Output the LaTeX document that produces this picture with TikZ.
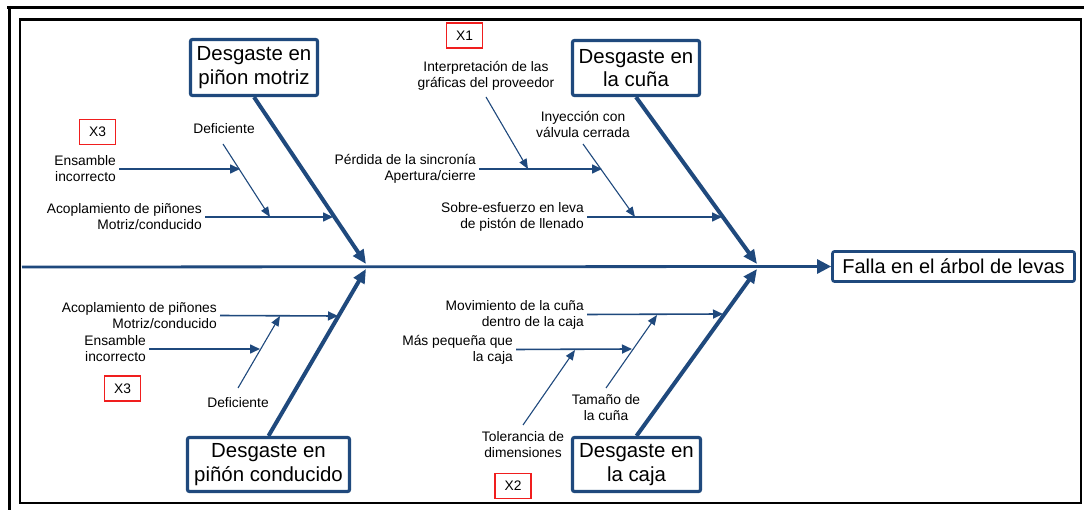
\documentclass[tikz,border=0pt]{standalone}
\usepackage{fontspec}
\setmainfont{Liberation Sans}
\usetikzlibrary{arrows.meta}
\definecolor{bl}{RGB}{31,73,125}
\definecolor{xred}{RGB}{240,30,30}
\tikzset{
  causebox/.style={draw=bl, line width=3.2pt, rounded corners=2pt, fill=white, align=center,
    font=\fontsize{20.4}{23.5}\selectfont, inner sep=0pt},
  effectbox/.style={draw=bl, line width=2.7pt, rounded corners=2pt, fill=white, align=center,
    font=\fontsize{20}{23}\selectfont, inner sep=0pt, minimum width=242pt, minimum height=30pt},
  lbl/.style={font=\fontsize{13.8}{16}\selectfont, inner sep=0pt},
  lblr/.style={lbl, align=right, anchor=east},
  lblc/.style={lbl, align=center},
  xbox/.style={draw=xred, line width=1.1pt, font=\fontsize{13.8}{16}\selectfont, inner sep=0pt,
    minimum width=36pt, minimum height=25pt},
  mainbone/.style={draw=bl, line width=4pt, -{Triangle[length=14pt,width=12pt]}},
  spine/.style={draw=bl, line width=2.8pt, -{Triangle[length=14pt,width=14pt]}},
  subbone/.style={draw=bl, line width=1.6pt, shorten <=3pt, -{Triangle[length=10pt,width=9pt]}},
  diagbone/.style={draw=bl, line width=1.1pt, -{Triangle[length=10pt,width=8pt]}},
  frameouter/.style={draw=black, line width=3.5pt},
  frameinner/.style={draw=black, line width=2.2pt}
}
\begin{document}
\begin{tikzpicture}[x=1pt,y=-1pt]
\useasboundingbox (0,0) rectangle (1084,510);
\fill[white] (0,0) rectangle (1084,510);
% frames
\draw[frameouter] (7,7.5) -- (1084,7.5);
\draw[frameouter] (9.3,6) -- (9.3,510);
\draw[frameinner] (20.3,19.5) rectangle (1081,503);

% junctions and spine
\coordinate (S0) at (22,267);
\coordinate (J1t) at (366,264);
\coordinate (J1b) at (366,269);
\coordinate (J2t) at (757,264);
\coordinate (J2b) at (757,269);

% effect
\node[effectbox] (eff) at (953.5,266.5) {Falla en el árbol de levas};

% cause boxes
\node[causebox, minimum width=127pt, minimum height=56pt] (cpm) at (254,67.5) {Desgaste en\\piñon motriz};
\node[causebox, minimum width=127pt, minimum height=55pt] (ccu) at (636,68) {Desgaste en\\la cuña};
\node[causebox, minimum width=162pt, minimum height=54pt] (cpc) at (268.5,464.5) {Desgaste en\\piñón conducido};
\node[causebox, minimum width=128pt, minimum height=54pt] (cca) at (636.5,464.5) {Desgaste en\\la caja};

\draw[spine] (S0) -- (eff.west);
\draw[mainbone] (cpm.south) -- (J1t);
\draw[mainbone] (ccu.south) -- (J2t);
\draw[mainbone] (cpc.north) -- (J1b);
\draw[mainbone] (cca.north) -- (J2b);

% ---------- top-left ----------
\node[xbox] (x3a) at (97.5,132) {X3};
\node[lblc] (def1) at (224,129) {Deficiente};
\node[lblr] (ens1) at (116,169) {Ensamble\\incorrecto};
\node[lblr] (aco1) at (202,217) {Acoplamiento de piñones\\Motriz/conducido};
\coordinate (d1s) at (223,144);
\coordinate (d1e) at (270,217);
\coordinate (e1) at (240,169);
\coordinate (a1) at (333,217);
\draw[diagbone] (d1s) -- (d1e);
\draw[subbone] (ens1.east) -- (e1);
\draw[subbone] (aco1.east) -- (a1);

% ---------- top-right ----------
\node[xbox] (x1) at (464.5,35.5) {X1};
\node[lblc] (int) at (486,75.5) {Interpretación de las\\gráficas del proveedor};
\node[lblc] (iny) at (583,124.5) {Inyección con\\válvula cerrada};
\node[lblr] (per) at (476,169) {Pérdida de la sincronía\\Apertura/cierre};
\node[lblr] (sob) at (584,217) {Sobre-esfuerzo en leva\\de pistón de llenado};
\coordinate (is) at (486,97);
\coordinate (ie) at (528,169);
\coordinate (ys) at (583,144);
\coordinate (ye) at (635,217);
\coordinate (p1) at (602,169);
\coordinate (s1) at (722,217);
\draw[diagbone] (is) -- (ie);
\draw[diagbone] (ys) -- (ye);
\draw[subbone] (per.east) -- (p1);
\draw[subbone] (sob.east) -- (s1);

% ---------- bottom-left ----------
\node[xbox] (x3b) at (122.5,388.5) {X3};
\node[lblr] (aco2) at (217,315.5) {Acoplamiento de piñones\\Motriz/conducido};
\node[lblr] (ens2) at (146,349) {Ensamble\\incorrecto};
\node[lblc] (def2) at (238,403) {Deficiente};
\coordinate (d2s) at (238,388);
\coordinate (d2e) at (280,316);
\coordinate (a2) at (338,316);
\coordinate (e2) at (260,349);
\draw[diagbone] (d2s) -- (d2e);
\draw[subbone] (aco2.east) -- (a2);
\draw[subbone] (ens2.east) -- (e2);

% ---------- bottom-right ----------
\node[xbox] (x2) at (513,486) {X2};
\node[lblr] (mov) at (584,314.5) {Movimiento de la cuña\\dentro de la caja};
\node[lblr] (mas) at (513,349.5) {Más pequeña que\\la caja};
\node[lblc] (tam) at (606,407.5) {Tamaño de\\la cuña};
\node[lblc] (tol) at (523,445) {Tolerancia de\\dimensiones};
\coordinate (ts) at (606,388);
\coordinate (te) at (657,315);
\coordinate (os) at (523,425);
\coordinate (oe) at (575,350);
\coordinate (m1) at (723,314);
\coordinate (m2) at (632,349);
\draw[diagbone] (ts) -- (te);
\draw[diagbone] (os) -- (oe);
\draw[subbone] (mov.east) -- (m1);
\draw[subbone] (mas.east) -- (m2);
\end{tikzpicture}
\end{document}
